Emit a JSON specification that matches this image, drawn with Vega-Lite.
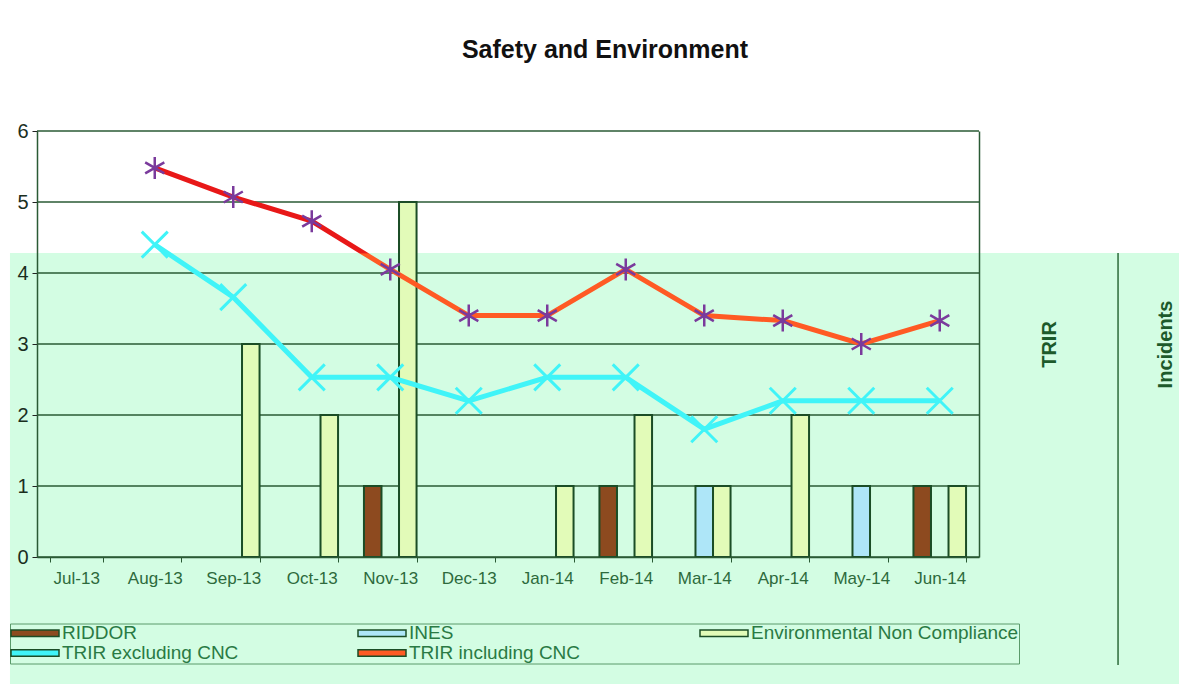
{
  "$schema": "https://vega.github.io/schema/vega-lite/v6.json",
  "width": 942,
  "height": 426,
  "autosize": {"type": "none"},
  "padding": {"left": 37, "top": 131, "right": 200, "bottom": 127},
  "background": "white",
  "title": {"text": "Safety and Environment", "font": "Liberation Sans", "fontSize": 25, "fontWeight": "bold", "color": "#111111", "anchor": "middle", "frame": "group", "dx": 97, "offset": 58},
  "config": {
    "view": {"stroke": null}
  },
  "datasets": {
    "incidents": [
      {"month": "Sep-13", "series": "Environmental Non Compliance", "value": 3},
      {"month": "Oct-13", "series": "Environmental Non Compliance", "value": 2},
      {"month": "Nov-13", "series": "RIDDOR", "value": 1},
      {"month": "Nov-13", "series": "Environmental Non Compliance", "value": 5},
      {"month": "Jan-14", "series": "Environmental Non Compliance", "value": 1},
      {"month": "Feb-14", "series": "RIDDOR", "value": 1},
      {"month": "Feb-14", "series": "Environmental Non Compliance", "value": 2},
      {"month": "Mar-14", "series": "INES", "value": 1},
      {"month": "Mar-14", "series": "Environmental Non Compliance", "value": 1},
      {"month": "Apr-14", "series": "Environmental Non Compliance", "value": 2},
      {"month": "May-14", "series": "INES", "value": 1},
      {"month": "Jun-14", "series": "RIDDOR", "value": 1},
      {"month": "Jun-14", "series": "Environmental Non Compliance", "value": 1}
    ],
    "trir": [
      {"month": "Aug-13", "series": "TRIR excluding CNC", "value": 4.4},
      {"month": "Sep-13", "series": "TRIR excluding CNC", "value": 3.66},
      {"month": "Oct-13", "series": "TRIR excluding CNC", "value": 2.53},
      {"month": "Nov-13", "series": "TRIR excluding CNC", "value": 2.53},
      {"month": "Dec-13", "series": "TRIR excluding CNC", "value": 2.2},
      {"month": "Jan-14", "series": "TRIR excluding CNC", "value": 2.53},
      {"month": "Feb-14", "series": "TRIR excluding CNC", "value": 2.53},
      {"month": "Mar-14", "series": "TRIR excluding CNC", "value": 1.8},
      {"month": "Apr-14", "series": "TRIR excluding CNC", "value": 2.2},
      {"month": "May-14", "series": "TRIR excluding CNC", "value": 2.2},
      {"month": "Jun-14", "series": "TRIR excluding CNC", "value": 2.2},
      {"month": "Aug-13", "series": "TRIR including CNC", "value": 5.48},
      {"month": "Sep-13", "series": "TRIR including CNC", "value": 5.07},
      {"month": "Oct-13", "series": "TRIR including CNC", "value": 4.73},
      {"month": "Nov-13", "series": "TRIR including CNC", "value": 4.05},
      {"month": "Dec-13", "series": "TRIR including CNC", "value": 3.4},
      {"month": "Jan-14", "series": "TRIR including CNC", "value": 3.4},
      {"month": "Feb-14", "series": "TRIR including CNC", "value": 4.05},
      {"month": "Mar-14", "series": "TRIR including CNC", "value": 3.4},
      {"month": "Apr-14", "series": "TRIR including CNC", "value": 3.33},
      {"month": "May-14", "series": "TRIR including CNC", "value": 3.0},
      {"month": "Jun-14", "series": "TRIR including CNC", "value": 3.33}
    ],
    "grid": [{"g": 0}, {"g": 1}, {"g": 2}, {"g": 3}, {"g": 4}, {"g": 5}, {"g": 6}]
  },
  "resolve": {"scale": {"x": "independent", "y": "independent"}},
  "layer": [
    {
      "data": {"values": [{}]},
      "layer": [
        {
          "mark": {"type": "rect", "color": "#d3fde3", "clip": false},
          "encoding": {
            "x": {"datum": -0.0287, "type": "quantitative", "scale": {"domain": [0, 1], "nice": false, "zero": false}, "axis": null},
            "x2": {"datum": 1.3},
            "y": {"datum": 4.28, "type": "quantitative", "scale": {"domain": [0, 6], "nice": false, "zero": false},
              "axis": {"orient": "right", "title": "Incidents", "labels": false, "ticks": false, "domain": false, "grid": false, "zindex": 1,
                "titleAngle": 270, "titleFont": "Liberation Sans", "titleFontSize": 20, "titleFontWeight": "bold", "titleColor": "#1d5a2b", "titlePadding": 196}},
            "y2": {"datum": -2}
          }
        },
        {
          "mark": {"type": "rule", "color": "#2d6a3a", "strokeWidth": 1.5, "clip": false},
          "encoding": {
            "x": {"datum": 1.1476, "type": "quantitative"},
            "y": {"datum": 4.28, "type": "quantitative"},
            "y2": {"datum": -1.52}
          }
        }
      ]
    },
    {
      "data": {"name": "grid"},
      "mark": {"type": "rule", "color": "#2a5a34", "strokeWidth": 1.3},
      "encoding": {
        "y": {"field": "g", "type": "quantitative", "scale": {"domain": [0, 6], "nice": false},
          "axis": {"orient": "right", "title": "TRIR", "labels": false, "ticks": false, "domain": true, "grid": false, "domainColor": "#2a5a34", "domainWidth": 1.5, "zindex": 1,
            "titleAngle": 270, "titleFont": "Liberation Sans", "titleFontSize": 20, "titleFontWeight": "bold", "titleColor": "#1d5a2b", "titlePadding": 80}}
      }
    },
    {
      "layer": [
        {
          "data": {"name": "incidents"},
          "mark": {"type": "bar", "stroke": "#1b4d26", "strokeWidth": 2},
          "encoding": {
            "x": {"field": "month", "type": "nominal",
              "scale": {"domain": ["Jul-13", "Aug-13", "Sep-13", "Oct-13", "Nov-13", "Dec-13", "Jan-14", "Feb-14", "Mar-14", "Apr-14", "May-14", "Jun-14"], "paddingInner": 0.33, "paddingOuter": 0.165},
              "axis": {"orient": "bottom", "title": null, "labelAngle": 0, "labelFont": "Liberation Sans", "labelFontSize": 17, "labelColor": "#2d6a3c", "labelPadding": 8, "zindex": 1,
                "tickBand": "extent", "tickSize": 5, "tickColor": "#2a5a34", "domainColor": "#2a5a34", "domainWidth": 1.5, "grid": false}},
            "xOffset": {"field": "series", "type": "nominal", "scale": {"domain": ["RIDDOR", "INES", "Environmental Non Compliance"], "paddingInner": 0, "paddingOuter": 0}},
            "y": {"field": "value", "type": "quantitative", "scale": {"domain": [0, 6], "nice": false},
              "axis": {"orient": "left", "title": null, "values": [0, 1, 2, 3, 4, 5, 6], "format": "d", "grid": false, "zindex": 1, "labelFont": "Liberation Sans", "labelFontSize": 20, "labelColor": "#1a2e1e", "labelPadding": 4, "tickSize": 5, "tickColor": "#222222", "domainColor": "#2a5a34", "domainWidth": 1.5}},
            "color": {"field": "series", "type": "nominal",
              "scale": {"domain": ["RIDDOR", "INES", "Environmental Non Compliance", "TRIR excluding CNC", "TRIR including CNC"], "range": ["#8d4a1f", "#aee6f8", "#e2fbb8", "#40f4f8", "#ff5a24"]},
              "legend": {"orient": "none", "legendX": -27, "legendY": 492.5, "columns": 3, "direction": "horizontal", "title": null,
                "symbolSize": 2304, "symbolType": "M-1,-0.14H1V0.14H-1Z", "clipHeight": 19,
                "labelFont": "Liberation Sans", "labelFontSize": 19, "labelColor": "#2a7a44", "labelOffset": 2, "labelLimit": 400,
                "columnPadding": 118, "rowPadding": 0, "strokeColor": "#5a9a6a", "padding": 0, "zindex": 2,
                "encode": {"symbols": {"update": {
                  "fill": {"scale": "color", "field": "value"},
                  "stroke": [{"test": "indexof(datum.value,'TRIR')===0", "scale": "color", "field": "value"}, {"value": "#1b4d26"}],
                  "strokeWidth": {"value": 2},
                  "opacity": {"value": 1}
                }}}}
            }
          }
        },
        {
          "data": {"name": "trir"},
          "transform": [{"filter": "datum.series === 'TRIR excluding CNC'"}],
          "mark": {"type": "line", "stroke": "#40f4f8", "strokeWidth": 5},
          "encoding": {
            "x": {"field": "month", "type": "nominal"},
            "y": {"field": "value", "type": "quantitative"}
          }
        },
        {
          "data": {"name": "trir"},
          "transform": [{"filter": "datum.series === 'TRIR excluding CNC'"}],
          "mark": {"type": "point", "shape": "M-1,-1L1,1M-1,1L1,-1", "size": 676, "filled": false, "stroke": "#40f4f8", "strokeWidth": 3, "opacity": 1},
          "encoding": {
            "x": {"field": "month", "type": "nominal"},
            "y": {"field": "value", "type": "quantitative"}
          }
        },
        {
          "data": {"name": "trir"},
          "transform": [{"filter": "datum.series === 'TRIR including CNC'"}],
          "mark": {"type": "line", "strokeWidth": 5,
            "stroke": {"gradient": "linear", "x1": 0, "y1": 0, "x2": 0, "y2": 1,
              "stops": [{"offset": 0, "color": "#e81818"}, {"offset": 0.48, "color": "#e81818"}, {"offset": 0.49, "color": "#ff5a24"}, {"offset": 1, "color": "#ff5a24"}]}},
          "encoding": {
            "x": {"field": "month", "type": "nominal"},
            "y": {"field": "value", "type": "quantitative"}
          }
        },
        {
          "data": {"name": "trir"},
          "transform": [{"filter": "datum.series === 'TRIR including CNC'"}],
          "mark": {"type": "point", "shape": "M0,-1L0,1M-0.87,-0.5L0.87,0.5M-0.87,0.5L0.87,-0.5", "size": 484, "filled": false, "stroke": "#7a3a9c", "strokeWidth": 2.5, "opacity": 1},
          "encoding": {
            "x": {"field": "month", "type": "nominal"},
            "y": {"field": "value", "type": "quantitative"}
          }
        }
      ]
    }
  ]
}
